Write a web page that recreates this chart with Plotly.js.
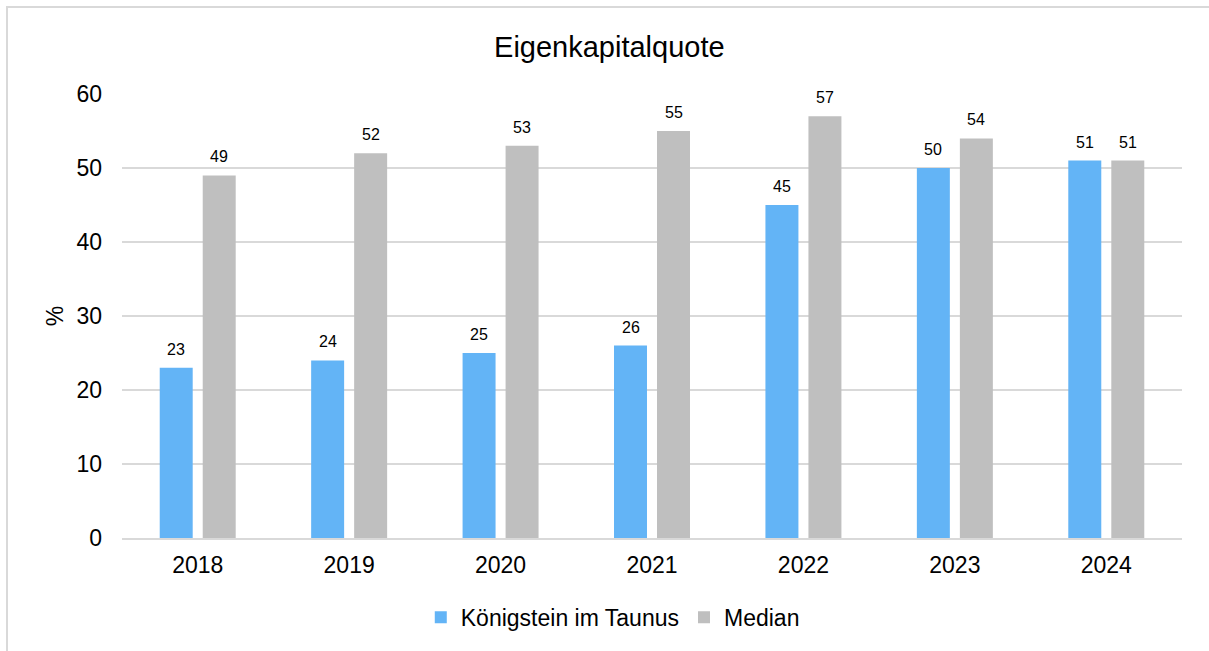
<!DOCTYPE html>
<html>
<head>
<meta charset="utf-8">
<script src="https://cdn.plot.ly/plotly-3.0.1.min.js"></script>
<style>
html,body{margin:0;padding:0;background:#fff;overflow:hidden;}
#frame{position:absolute;left:6px;top:6px;width:1225px;height:670px;border:2px solid #d9d9d9;box-sizing:border-box;}
#chart{position:absolute;left:0;top:0;width:1209px;height:651px;}
</style>
</head>
<body>
<div id="frame"></div>
<div id="chart"></div>
<script>
const years = ['2018','2019','2020','2021','2022','2023','2024'];
const koenigstein = [23,24,25,26,45,50,51];
const median = [49,52,53,55,57,54,51];
const seriesNames = ['Königstein im Taunus','Median'];
const yTicks = [0,10,20,30,40,50,60];

const font = 'Liberation Sans, Arial, sans-serif';
const traces = [
  {type:'bar', name:seriesNames[0], x:years, y:koenigstein, marker:{color:'#63b4f6'}, hoverinfo:'x+y'},
  {type:'bar', name:seriesNames[1], x:years, y:median, marker:{color:'#bfbfbf'}, hoverinfo:'x+y'}
];
const annotations = [];
[[koenigstein,-21.5],[median,21.5]].forEach(([vals,shift])=>{
  vals.forEach((v,i)=>{
    annotations.push({x:i, y:v, xref:'x', yref:'y', text:String(v), showarrow:false,
      xanchor:'center', yanchor:'bottom', xshift:shift, yshift:8,
      font:{family:font,size:16,color:'#000'}});
  });
});
const layout = {
  width:1209, height:651,
  paper_bgcolor:'rgba(0,0,0,0)', plot_bgcolor:'rgba(0,0,0,0)',
  margin:{l:122,r:27,t:94,b:113, autoexpand:false},
  barmode:'group', bargap:0.432, bargroupgap:0.233,
  title:{text:'Eigenkapitalquote', font:{family:font,size:29,color:'#000'}, x:0.504, xanchor:'center', y:0.928, yanchor:'middle'},
  xaxis:{type:'category', range:[-0.5, years.length-0.5], automargin:false, tickangle:0, tickfont:{family:font,size:23,color:'#000'}, showgrid:false, showline:true, linecolor:'#d9d9d9', linewidth:2, ticks:'', ticklabelstandoff:5},
  yaxis:{range:[0,60], tickvals:yTicks, automargin:false, tickfont:{family:font,size:23,color:'#000'}, showgrid:true, gridcolor:'#d9d9d9', gridwidth:2, zeroline:false, showline:false, ticks:'', ticklabelstandoff:19,
    title:{text:'%', font:{family:font,size:23,color:'#000'}, standoff:6}},
  legend:{orientation:'h', x:0.463, xanchor:'center', y:-0.13, yanchor:'top', font:{family:font,size:23,color:'#000'}, traceorder:'normal', itemwidth:30},
  annotations:annotations,
  showlegend:true
};
Plotly.newPlot('chart', traces, layout, {displayModeBar:false, staticPlot:true});
</script>
</body>
</html>
